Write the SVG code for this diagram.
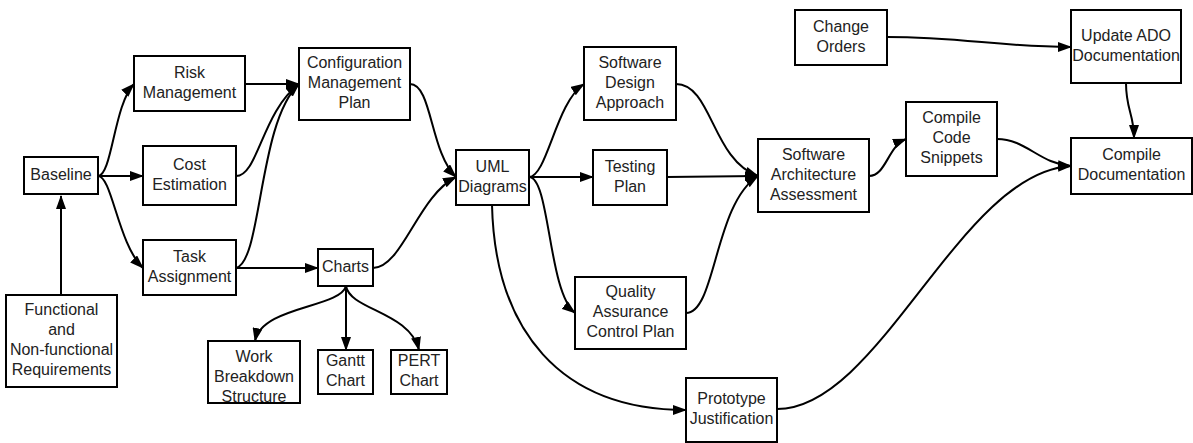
<svg xmlns="http://www.w3.org/2000/svg" width="1193" height="443" viewBox="0 0 1193 443">
<style>
.n rect{fill:#fff;stroke:#000;stroke-width:2}
.n text{font-family:"Liberation Sans",Arial,sans-serif;font-size:16px;fill:#222;text-anchor:middle}
#edges path{fill:none;stroke:#000;stroke-width:2;marker-end:url(#ah)}
#edges path.plain{marker-end:none}
</style>
<defs>
<marker id="ah" markerUnits="userSpaceOnUse" markerWidth="14" markerHeight="10" refX="13" refY="5" orient="auto">
<path d="M0,0 L14,5 L0,10 z" fill="#000"/>
</marker>
</defs>
<rect width="1193" height="443" fill="#fff"/>
<g id="edges">
<path d="M61,295 L61,196"/>
<path d="M98,176 C112,176 114,104 134,84"/>
<path d="M98,176 L143,176"/>
<path d="M98,176 C112,176 118,244 143,268"/>
<path d="M245,84 L299,84"/>
<path d="M236,176 C258,176 262,112 299,84"/>
<path d="M236,268 C262,262 258,122 299,84"/>
<path d="M236,268 L318,268"/>
<path d="M410,84 C432,84 430,152 456,177"/>
<path d="M373,268 C402,268 418,196 456,177"/>
<path d="M346,286 C340,308 262,306 255,341"/>
<path d="M346,286 L346,350"/>
<path d="M346,286 C350,310 410,312 419,350"/>
<path d="M529,177 C547,177 556,102 584,84"/>
<path d="M529,177 L593,177"/>
<path d="M529,177 C550,177 548,292 575,313"/>
<path d="M492,205 C495,330 560,410 686,410"/>
<path d="M676,84 C712,84 712,160 758,176"/>
<path d="M667,177 L758,176"/>
<path d="M686,313 C716,313 714,204 758,176"/>
<path d="M869,176 C886,176 888,146 906,139"/>
<path d="M997,139 C1026,139 1040,164 1071,166"/>
<path d="M777,409 C880,409 960,172 1071,166"/>
<path d="M887,37 C962,37 1000,47 1071,47"/>
<path d="M1126,83 C1126,110 1134,114 1134,138"/>
</g>
<g id="baseline" class="n"><rect x="24" y="157" width="74" height="37"/><text x="61" y="180">Baseline</text></g>
<g id="requirements" class="n"><rect x="6" y="295" width="111" height="92"/><text x="61.5" y="315">Functional</text><text x="61.5" y="335">and</text><text x="61.5" y="355">Non-functional</text><text x="61.5" y="375">Requirements</text></g>
<g id="risk" class="n"><rect x="134" y="56" width="111" height="55"/><text x="189.5" y="77.5">Risk</text><text x="189.5" y="97.5">Management</text></g>
<g id="cost" class="n"><rect x="143" y="146" width="93" height="59"/><text x="189.5" y="169.5">Cost</text><text x="189.5" y="189.5">Estimation</text></g>
<g id="task" class="n"><rect x="143" y="240" width="93" height="55"/><text x="189.5" y="261.5">Task</text><text x="189.5" y="281.5">Assignment</text></g>
<g id="config" class="n"><rect x="299" y="48" width="111" height="72"/><text x="354.5" y="68">Configuration</text><text x="354.5" y="88">Management</text><text x="354.5" y="108">Plan</text></g>
<g id="charts" class="n"><rect x="318" y="249" width="55" height="37"/><text x="345.5" y="272">Charts</text></g>
<g id="wbs" class="n"><rect x="208" y="341" width="92" height="62"/><text x="254" y="362">Work</text><text x="254" y="382">Breakdown</text><text x="254" y="402">Structure</text></g>
<g id="gantt" class="n"><rect x="318" y="350" width="55" height="44"/><text x="345.5" y="366">Gantt</text><text x="345.5" y="386">Chart</text></g>
<g id="pert" class="n"><rect x="391" y="350" width="56" height="44"/><text x="419" y="366">PERT</text><text x="419" y="386">Chart</text></g>
<g id="uml" class="n"><rect x="456" y="150" width="73" height="55"/><text x="492.5" y="171.5">UML</text><text x="492.5" y="191.5">Diagrams</text></g>
<g id="design" class="n"><rect x="584" y="47" width="92" height="73"/><text x="630" y="67.5">Software</text><text x="630" y="87.5">Design</text><text x="630" y="107.5">Approach</text></g>
<g id="testing" class="n"><rect x="593" y="150" width="74" height="55"/><text x="630" y="171.5">Testing</text><text x="630" y="191.5">Plan</text></g>
<g id="qa" class="n"><rect x="575" y="277" width="111" height="72"/><text x="630.5" y="297">Quality</text><text x="630.5" y="317">Assurance</text><text x="630.5" y="337">Control Plan</text></g>
<g id="prototype" class="n"><rect x="686" y="378" width="91" height="64"/><text x="731.5" y="404">Prototype</text><text x="731.5" y="424">Justification</text></g>
<g id="saa" class="n"><rect x="758" y="139" width="111" height="73"/><text x="813.5" y="159.5">Software</text><text x="813.5" y="179.5">Architecture</text><text x="813.5" y="199.5">Assessment</text></g>
<g id="snippets" class="n"><rect x="906" y="102" width="91" height="74"/><text x="951.5" y="123">Compile</text><text x="951.5" y="143">Code</text><text x="951.5" y="163">Snippets</text></g>
<g id="change" class="n"><rect x="795" y="10" width="92" height="55"/><text x="841" y="31.5">Change</text><text x="841" y="51.5">Orders</text></g>
<g id="ado" class="n"><rect x="1071" y="10" width="110" height="73"/><text x="1126" y="40.5">Update ADO</text><text x="1126" y="60.5">Documentation</text></g>
<g id="compiledoc" class="n"><rect x="1071" y="138" width="121" height="56"/><text x="1131.5" y="160">Compile</text><text x="1131.5" y="180">Documentation</text></g>
</svg>
